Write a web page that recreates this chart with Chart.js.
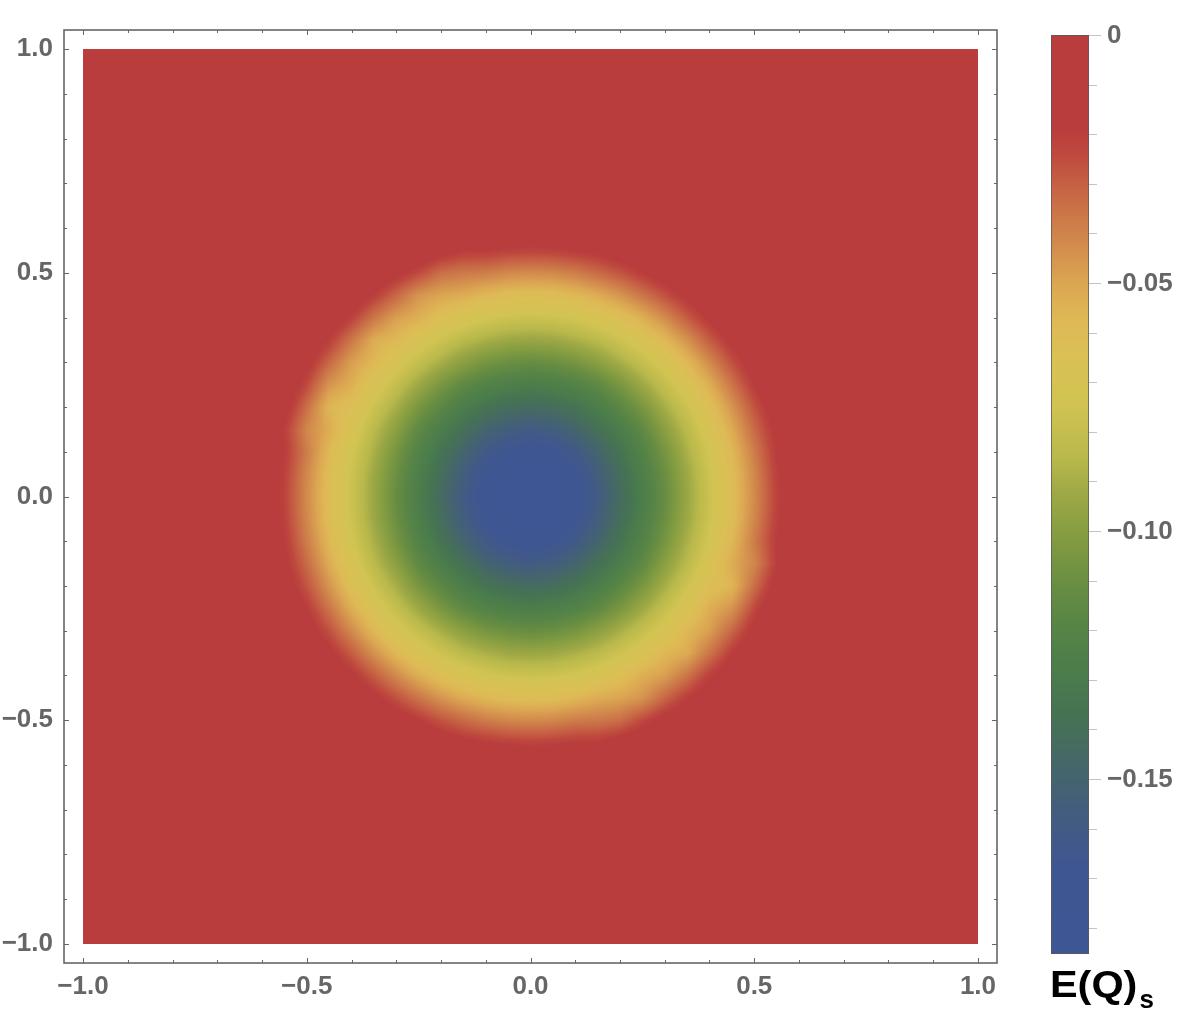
<!DOCTYPE html>
<html>
<head>
<meta charset="utf-8">
<script src="https://cdn.jsdelivr.net/npm/chart.js@4.4.1/dist/chart.umd.min.js"></script>
<style>
html,body{margin:0;padding:0;background:#fff;}
#wrap{width:1194px;height:1030px;position:relative;}
</style>
</head>
<body>
<div id="wrap"><canvas id="c" width="1194" height="1030"></canvas></div>
<script>
// ---------- data ----------
const gridX = [-0.60,-0.55,-0.50,-0.45,-0.40,-0.35,-0.30,-0.25,-0.20,-0.15,-0.10,-0.05,0.00,0.05,0.10,0.15,0.20,0.25,0.30,0.35,0.40,0.45,0.50,0.55,0.60];
const gridY = [0.60,0.55,0.50,0.45,0.40,0.35,0.30,0.25,0.20,0.15,0.10,0.05,0.00,-0.05,-0.10,-0.15,-0.20,-0.25,-0.30,-0.35,-0.40,-0.45,-0.50,-0.55,-0.60];
// E(Q)_s values in units of 1e-3; rows follow gridY (top to bottom), columns follow gridX
const E_UNIT = 1e-3;
const energyRows = [
 [0,0,0,0,0,0,-0.5,-1,-4,-6,-6,-7,-7,-7,-6,-5,-3,-1,-0.5,0,0,0,0,0,0],
 [0,0,0,0,0,-1,-5,-8,-14,-19,-19,-21,-22,-21,-19,-16,-11,-6,-4,-1,0,0,0,0,0],
 [0,0,0,-0.5,-2,-8,-15,-24,-34,-37,-38,-41,-42,-41,-38,-33,-27,-19,-12,-6,-2,-0.5,0,0,0],
 [0,0,-0.5,-4,-9,-20,-32,-45,-50,-52,-57,-60,-61,-60,-57,-52,-45,-36,-26,-16,-7,-3,-0.5,0,0],
 [0,0,-2,-9,-21,-36,-48,-53,-62,-68,-73,-76,-77,-76,-73,-68,-62,-53,-42,-29,-17,-7,-2,0,0],
 [0,-1,-8,-20,-36,-52,-57,-67,-76,-84,-89,-93,-94,-93,-89,-84,-76,-67,-57,-44,-29,-16,-6,-1,0],
 [-0.5,-5,-15,-32,-48,-57,-69,-80,-90,-99,-106,-110,-112,-110,-106,-99,-90,-80,-69,-57,-42,-26,-12,-4,-0.5],
 [-1,-8,-24,-45,-53,-67,-80,-93,-105,-115,-122,-126,-128,-126,-122,-115,-105,-93,-80,-67,-53,-36,-19,-6,-1],
 [-4,-14,-34,-56,-62,-76,-90,-105,-117,-128,-136,-141,-143,-141,-136,-128,-117,-105,-90,-76,-62,-45,-27,-11,-3],
 [-6,-20,-41,-52,-68,-84,-99,-115,-128,-139,-149,-156,-159,-156,-149,-139,-128,-115,-99,-84,-68,-52,-33,-16,-5],
 [-6,-19,-38,-57,-73,-89,-106,-122,-136,-149,-161,-170,-173,-170,-161,-149,-136,-122,-106,-89,-73,-57,-38,-19,-6],
 [-7,-21,-41,-60,-76,-93,-110,-126,-141,-156,-170,-178,-182,-178,-170,-156,-141,-126,-110,-93,-76,-60,-41,-21,-7],
 [-7,-22,-42,-61,-77,-94,-112,-128,-143,-159,-173,-182,-185,-182,-173,-159,-143,-128,-112,-94,-77,-61,-42,-22,-7],
 [-7,-21,-41,-60,-76,-93,-110,-126,-141,-156,-170,-178,-182,-178,-170,-156,-141,-126,-110,-93,-76,-60,-41,-21,-7],
 [-6,-19,-38,-57,-73,-89,-106,-122,-136,-149,-161,-170,-173,-170,-161,-149,-136,-122,-106,-89,-73,-57,-38,-19,-6],
 [-5,-16,-33,-52,-68,-84,-99,-115,-128,-139,-149,-156,-159,-156,-149,-139,-128,-115,-99,-84,-68,-52,-41,-20,-6],
 [-3,-11,-27,-45,-62,-76,-90,-105,-117,-128,-136,-141,-143,-141,-136,-128,-117,-105,-90,-76,-62,-56,-34,-14,-4],
 [-1,-6,-19,-36,-53,-67,-80,-93,-105,-115,-122,-126,-128,-126,-122,-115,-105,-93,-80,-67,-53,-45,-24,-8,-1],
 [-0.5,-4,-12,-26,-42,-57,-69,-80,-90,-99,-106,-110,-112,-110,-106,-99,-90,-80,-69,-57,-48,-32,-15,-5,-0.5],
 [0,-1,-6,-16,-29,-44,-57,-67,-76,-84,-89,-93,-94,-93,-89,-84,-76,-67,-57,-52,-36,-20,-8,-1,0],
 [0,0,-2,-7,-17,-29,-42,-53,-62,-68,-73,-76,-77,-76,-73,-68,-62,-53,-48,-36,-21,-9,-2,0,0],
 [0,0,-0.5,-3,-7,-16,-26,-36,-45,-52,-57,-60,-61,-60,-57,-52,-50,-45,-32,-20,-9,-4,-0.5,0,0],
 [0,0,0,-0.5,-2,-6,-12,-19,-27,-33,-38,-41,-42,-41,-38,-37,-34,-24,-15,-8,-2,-0.5,0,0,0],
 [0,0,0,0,0,-1,-4,-6,-11,-16,-19,-21,-22,-21,-19,-19,-14,-8,-5,-1,0,0,0,0,0],
 [0,0,0,0,0,0,-0.5,-1,-3,-5,-6,-7,-7,-7,-6,-6,-4,-1,-0.5,0,0,0,0,0,0]
];
const outsideValue = 0;
const plotRange = [-1, 1];
const axisRange = [-1.0425, 1.0425];
const xMajorTicks = [-1, -0.5, 0, 0.5, 1];
const xTickLabels = ['\u22121.0', '\u22120.5', '0.0', '0.5', '1.0'];
const yMajorTicks = [-1, -0.5, 0, 0.5, 1];
const yTickLabels = ['\u22121.0', '\u22120.5', '0.0', '0.5', '1.0'];
const minorTicks = [-0.9,-0.8,-0.7,-0.6,-0.4,-0.3,-0.2,-0.1,0.1,0.2,0.3,0.4,0.6,0.7,0.8,0.9];
const cbMajorTicks = [0, -0.05, -0.10, -0.15];
const cbTickLabels = ['0', '\u22120.05', '\u22120.10', '\u22120.15'];
const cbMinorTicks = [-0.01,-0.02,-0.03,-0.04,-0.06,-0.07,-0.08,-0.09,-0.11,-0.12,-0.13,-0.14,-0.16,-0.17,-0.18];
const cbRange = [-0.1853, 0];
const legendTitle = 'E(Q)';
const legendSub = 's';

// ---------- colour gradient (low -> high) ----------
const cStops = [
 [0.000,[62,86,148]],[0.084,[62,87,146]],[0.121,[65,88,138]],[0.157,[67,93,125]],
 [0.193,[68,100,110]],[0.230,[70,108,95]],[0.265,[70,115,82]],[0.306,[75,125,75]],
 [0.360,[88,133,70]],[0.396,[102,140,66]],[0.432,[120,150,65]],[0.469,[140,160,66]],
 [0.505,[160,170,70]],[0.541,[185,185,75]],[0.603,[210,196,82]],[0.654,[218,192,85]],
 [0.690,[222,185,85]],[0.726,[220,168,82]],[0.763,[212,145,78]],[0.799,[205,122,73]],
 [0.835,[198,98,68]],[0.872,[190,72,62]],[0.897,[185,61,61]],[1.000,[185,61,61]]
];
function colorFor(v){
  let t = (v - cbRange[0]) / (cbRange[1] - cbRange[0]);
  t = Math.max(0, Math.min(1, t));
  for (let k = 1; k < cStops.length; k++) {
    if (t <= cStops[k][0]) {
      const a = cStops[k-1], b = cStops[k];
      const u = (t - a[0]) / (b[0] - a[0]);
      return [a[1][0] + u*(b[1][0]-a[1][0]), a[1][1] + u*(b[1][1]-a[1][1]), a[1][2] + u*(b[1][2]-a[1][2])];
    }
  }
  return cStops[cStops.length-1][1];
}
function rgb(c){ return 'rgb(' + Math.round(c[0]) + ',' + Math.round(c[1]) + ',' + Math.round(c[2]) + ')'; }

const points = [];
gridY.forEach((y, j) => gridX.forEach((x, i) => points.push({x: x, y: y, v: energyRows[j][i] * E_UNIT})));

function gridValue(i, j){
  if (j < 0 || j >= gridY.length || i < 0 || i >= gridX.length) return outsideValue;
  return energyRows[j][i] * E_UNIT;
}
function fieldAt(x, y){
  const dx = gridX[1] - gridX[0], dy = gridY[0] - gridY[1];
  const fx = (x - gridX[0]) / dx, fy = (gridY[0] - y) / dy;
  const i0 = Math.floor(fx), j0 = Math.floor(fy);
  const tx = fx - i0, ty = fy - j0;
  const a = gridValue(i0, j0), b = gridValue(i0+1, j0), c = gridValue(i0, j0+1), d = gridValue(i0+1, j0+1);
  return (a*(1-tx) + b*tx)*(1-ty) + (c*(1-tx) + d*tx)*ty;
}

const GREY = '#666666';
const FONT = '"Liberation Sans", Arial, Helvetica, sans-serif';

const densityPlugin = {
  id: 'density',
  beforeDatasetsDraw(chart){
    const ctx = chart.ctx, xs = chart.scales.x, ys = chart.scales.y;
    const L = xs.getPixelForValue(plotRange[0]), R = xs.getPixelForValue(plotRange[1]);
    const T = ys.getPixelForValue(plotRange[1]), B = ys.getPixelForValue(plotRange[0]);
    ctx.save();
    ctx.fillStyle = rgb(colorFor(outsideValue));
    ctx.fillRect(L, T, R - L, B - T);
    const dx = gridX[1] - gridX[0];
    const x0 = Math.floor(xs.getPixelForValue(gridX[0] - dx)), x1 = Math.ceil(xs.getPixelForValue(gridX[gridX.length-1] + dx));
    const y0 = Math.floor(ys.getPixelForValue(gridY[0] + dx)), y1 = Math.ceil(ys.getPixelForValue(gridY[gridY.length-1] - dx));
    const w = x1 - x0, h = y1 - y0;
    const off = document.createElement('canvas');
    off.width = w; off.height = h;
    const octx = off.getContext('2d');
    const img = octx.createImageData(w, h);
    for (let py = 0; py < h; py++) {
      const yv = ys.getValueForPixel(y0 + py + 0.5);
      for (let px = 0; px < w; px++) {
        const xv = xs.getValueForPixel(x0 + px + 0.5);
        const c = colorFor(fieldAt(xv, yv));
        const k = (py*w + px)*4;
        img.data[k] = c[0]; img.data[k+1] = c[1]; img.data[k+2] = c[2]; img.data[k+3] = 255;
      }
    }
    octx.putImageData(img, 0, 0);
    ctx.beginPath(); ctx.rect(L, T, R - L, B - T); ctx.clip();
    ctx.drawImage(off, x0, y0);
    ctx.restore();
  },
  afterDatasetsDraw(chart){
    const ctx = chart.ctx, xs = chart.scales.x, ys = chart.scales.y, ca = chart.chartArea;
    ctx.save();
    ctx.strokeStyle = GREY;
    ctx.lineWidth = 1.6;
    ctx.strokeRect(ca.left, ca.top, ca.right - ca.left, ca.bottom - ca.top);
    ctx.lineWidth = 1;
    const tick = (x1, y1, x2, y2) => { ctx.beginPath(); ctx.moveTo(x1, y1); ctx.lineTo(x2, y2); ctx.stroke(); };
    xMajorTicks.forEach(v => { const p = Math.round(xs.getPixelForValue(v)) + 0.5; tick(p, ca.bottom, p, ca.bottom - 5); tick(p, ca.top, p, ca.top + 5); });
    minorTicks.forEach(v => { const p = Math.round(xs.getPixelForValue(v)) + 0.5; tick(p, ca.bottom, p, ca.bottom - 3); tick(p, ca.top, p, ca.top + 3); });
    yMajorTicks.forEach(v => { const p = Math.round(ys.getPixelForValue(v)) + 0.5; tick(ca.left, p, ca.left + 5, p); tick(ca.right, p, ca.right - 5, p); });
    minorTicks.forEach(v => { const p = Math.round(ys.getPixelForValue(v)) + 0.5; tick(ca.left, p, ca.left + 3, p); tick(ca.right, p, ca.right - 3, p); });
    ctx.restore();
  },
  afterDraw(chart){
    const ctx = chart.ctx;
    const bx = 1051, bw = 38, bt = 35, bb = 954;
    const yOf = v => bt + (cbRange[1] - v) / (cbRange[1] - cbRange[0]) * (bb - bt);
    ctx.save();
    for (let y = bt; y < bb; y++) {
      const v = cbRange[1] - (y + 0.5 - bt) / (bb - bt) * (cbRange[1] - cbRange[0]);
      ctx.fillStyle = rgb(colorFor(v));
      ctx.fillRect(bx, y, bw, 1);
    }
    ctx.strokeStyle = 'rgba(90,90,90,0.75)';
    ctx.lineWidth = 1;
    ctx.strokeRect(bx + 0.5, bt + 0.5, bw - 1, bb - bt - 1);
    ctx.strokeStyle = '#c4c4c4';
    cbMinorTicks.forEach(v => { const p = Math.round(yOf(v)) + 0.5; ctx.beginPath(); ctx.moveTo(bx + bw, p); ctx.lineTo(bx + bw + 8, p); ctx.stroke(); });
    cbMajorTicks.forEach(v => { const p = Math.round(yOf(v)) + 0.5; ctx.beginPath(); ctx.moveTo(bx + bw, p); ctx.lineTo(bx + bw + 12, p); ctx.stroke(); });
    ctx.fillStyle = GREY;
    ctx.font = 'bold 26px ' + FONT;
    ctx.textAlign = 'left';
    ctx.textBaseline = 'middle';
    cbMajorTicks.forEach((v, i) => ctx.fillText(cbTickLabels[i], 1107, yOf(v) + 1));
    ctx.fillStyle = '#000';
    ctx.textBaseline = 'alphabetic';
    ctx.font = 'bold 36px ' + FONT;
    ctx.save();
    ctx.translate(1050, 997);
    ctx.scale(1.15, 1);
    ctx.fillText(legendTitle, 0, 0);
    const tw = ctx.measureText(legendTitle).width;
    ctx.restore();
    ctx.font = 'bold 26px ' + FONT;
    ctx.fillText(legendSub, 1050 + tw * 1.15 + 2, 1008);
    ctx.restore();
  }
};

const tickFont = {family: FONT, size: 26, weight: 'bold'};
new Chart(document.getElementById('c').getContext('2d'), {
  type: 'scatter',
  data: { datasets: [{ label: 'E(Q)s', data: points, pointRadius: 0, pointHoverRadius: 0, showLine: false }] },
  options: {
    responsive: false, animation: false, devicePixelRatio: 1, events: [],
    layout: { padding: { top: 30, right: 197, left: 0, bottom: 0 } },
    plugins: { legend: { display: false }, tooltip: { enabled: false } },
    scales: {
      x: {
        type: 'linear', min: axisRange[0], max: axisRange[1],
        grid: { display: false, drawTicks: false }, border: { display: false },
        afterBuildTicks: s => { s.ticks = xMajorTicks.map(v => ({ value: v })); },
        afterFit: s => { s.height = 67; },
        ticks: { callback: (v, i) => xTickLabels[i], font: tickFont, color: GREY, padding: 8, maxRotation: 0, minRotation: 0, autoSkip: false }
      },
      y: {
        type: 'linear', min: axisRange[0], max: axisRange[1],
        grid: { display: false, drawTicks: false }, border: { display: false },
        afterBuildTicks: s => { s.ticks = yMajorTicks.map(v => ({ value: v })); },
        afterFit: s => { s.width = 64; },
        ticks: { callback: (v, i) => yTickLabels[i], font: tickFont, color: GREY, padding: 11, autoSkip: false }
      }
    }
  },
  plugins: [densityPlugin]
});
</script>
</body>
</html>
